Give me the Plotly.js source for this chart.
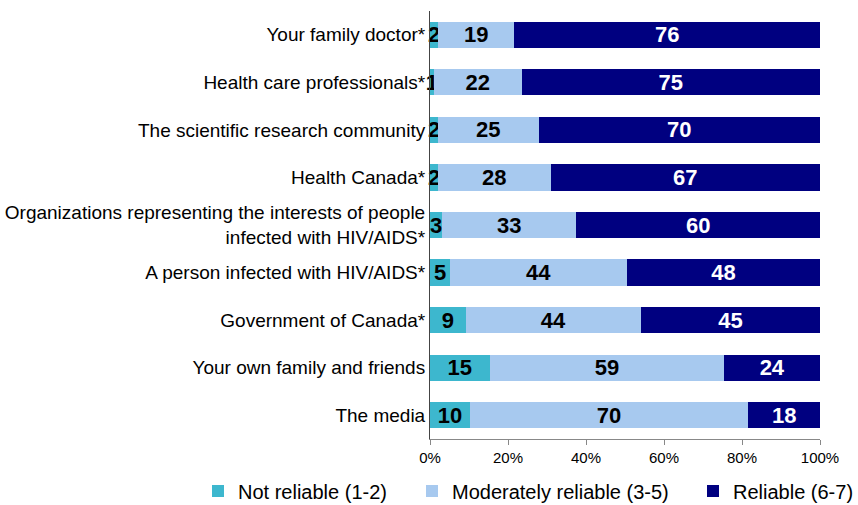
<!DOCTYPE html>
<html>
<head>
<meta charset="utf-8">
<script src="https://cdn.plot.ly/plotly-3.0.1.min.js"></script>
<style>html,body{margin:0;padding:0;background:#fff;}#chart{width:858px;height:505px;}</style>
</head>
<body>
<div id="chart"></div>
<script>
var categories = [
  "Your family doctor*",
  "Health care professionals*",
  "The scientific research community",
  "Health Canada*",
  "Organizations representing the interests of people<br>infected with HIV/AIDS*",
  "A person infected with HIV/AIDS*",
  "Government of Canada*",
  "Your own family and friends",
  "The media"
];
var notReliable = [2, 1, 2, 2, 3, 5, 9, 15, 10];
var moderatelyReliable = [19, 22, 25, 28, 33, 44, 44, 59, 70];
var reliable = [76, 75, 70, 67, 60, 48, 45, 24, 18];
var seriesNames = ["Not reliable (1-2)", "Moderately reliable (3-5)", "Reliable (6-7)"];
var tickVals = [0, 20, 40, 60, 80, 100];
var tickText = ["0%", "20%", "40%", "60%", "80%", "100%"];

var arial = "'Liberation Sans', Arial, sans-serif";

function mk(vals, name, color, txtColor, leg) {
  return {
    type: 'bar', orientation: 'h',
    y: categories, x: vals, name: name, legend: leg,
    marker: {color: color, line: {width: 0}},
    text: vals.map(String), texttemplate: '%{text}',
    textposition: 'inside', insidetextanchor: 'middle', textangle: 0,
    constraintext: 'none', cliponaxis: false,
    textfont: {family: arial, size: 22, color: txtColor, weight: 'bold'},
    hoverinfo: 'none'
  };
}

var data = [
  mk(notReliable, seriesNames[0], '#3DB7CE', '#000', 'legend'),
  mk(moderatelyReliable, seriesNames[1], '#A7C9EF', '#000', 'legend2'),
  mk(reliable, seriesNames[2], '#000080', '#fff', 'legend3')
];

function leg(x) {
  return {orientation: 'h', x: x, xanchor: 'left', y: -0.167, yanchor: 'bottom',
          font: {family: arial, size: 20, color: '#000'}, bgcolor: 'rgba(0,0,0,0)'};
}

var layout = {
  width: 858, height: 505,
  margin: {l: 430, r: 38, t: 11, b: 66, autoexpand: false},
  barmode: 'stack', barnorm: 'percent', bargap: 0.45,
  paper_bgcolor: '#fff', plot_bgcolor: '#fff',
  showlegend: true,
  legend: leg((198 - 430) / 390),
  legend2: leg((412 - 430) / 390),
  legend3: leg((693 - 430) / 390),
  xaxis: {range: [0, 100], tickvals: tickVals, ticktext: tickText,
          showgrid: false, zeroline: false, showline: true, linecolor: '#888', linewidth: 1,
          ticks: 'outside', ticklen: 5, tickcolor: '#888',
          tickfont: {family: arial, size: 15, color: '#000'}, fixedrange: true},
  yaxis: {autorange: 'reversed', showgrid: false, zeroline: false, showline: true,
          linecolor: '#444', linewidth: 1, ticks: '', ticklen: 0,
          tickfont: {family: arial, size: 19, color: '#000'}, fixedrange: true}
};

Plotly.newPlot('chart', data, layout, {displayModeBar: false, staticPlot: true});
</script>
</body>
</html>
